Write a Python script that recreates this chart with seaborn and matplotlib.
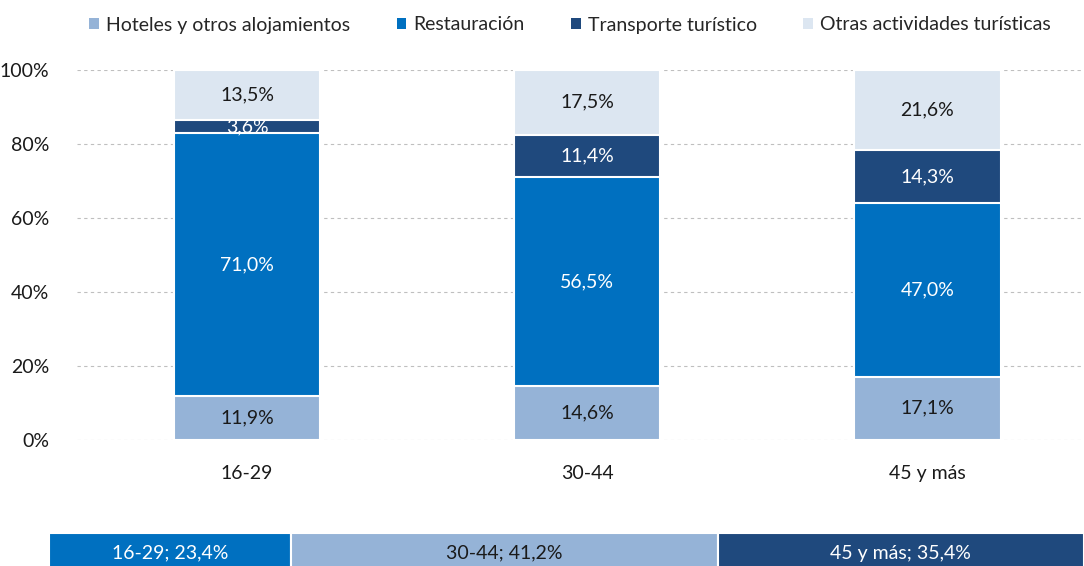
import matplotlib
matplotlib.use("Agg")
import matplotlib.pyplot as plt
import numpy as np
import pandas as pd
import seaborn as sns
from matplotlib.patches import Patch

grupos = ["16-29", "30-44", "45 y más"]
series = ["Hoteles y otros alojamientos", "Restauración",
          "Transporte turístico", "Otras actividades turísticas"]
hoteles = [11.9, 14.6, 17.1]
restauracion = [71.0, 56.5, 47.0]
transporte = [3.6, 11.4, 14.3]
otras = [13.5, 17.5, 21.6]

reparto_etiquetas = ["16-29; 23,4%", "30-44; 41,2%", "45 y más; 35,4%"]
reparto = [23.4, 41.2, 35.4]

_C_HOT = "#95B3D7"
_C_RES = "#0070C0"
_C_TRA = "#1F497D"
_C_OTR = "#DCE6F1"
colores = [_C_HOT, _C_RES, _C_TRA, _C_OTR]
texto_col = ["#1a1a1a", "white", "white", "#1a1a1a"]
colores_rep = [_C_RES, _C_HOT, _C_TRA]
texto_rep = ["white", "#1a1a1a", "white"]

sns.set_style("white")
plt.rcParams["font.family"] = ["Lato", "DejaVu Sans"]
FS = 14

fig = plt.figure(figsize=(10.84, 5.66), dpi=100)
W, H = 1084, 566
ax = fig.add_axes([77 / W, 126 / H, (1084 - 77) / W, 370 / H])

valores = np.array([hoteles, restauracion, transporte, otras])
acum = valores.cumsum(axis=0)

# capas acumuladas, de arriba hacia abajo
for i in range(3, -1, -1):
    df = pd.DataFrame({"grupo": grupos, "v": acum[i] / 100})
    sns.barplot(data=df, x="grupo", y="v", color=colores[i], width=0.43,
                edgecolor="white", linewidth=1.5, ax=ax, saturation=1)

for j in range(3):
    for i in range(4):
        centro = (acum[i, j] - valores[i, j] / 2) / 100
        ax.text(j, centro, f"{valores[i, j]:.1f}%".replace(".", ","),
                ha="center", va="center", fontsize=FS, color=texto_col[i])

ax.set_ylim(0, 1.0)
ax.set_xlim(-0.5, 2.46)
ax.set_yticks(np.arange(0, 1.01, 0.2))
ax.set_yticklabels([f"{int(t * 100)}%" for t in np.arange(0, 1.01, 0.2)])
ax.yaxis.grid(True, ls=(0, (3, 3)), color="#BFBFBF", lw=0.8)
ax.set_axisbelow(True)
ax.set_xlabel("")
ax.set_ylabel("")
ax.tick_params(axis="both", labelsize=FS, colors="#1a1a1a", length=0)
ax.tick_params(axis="x", pad=18)
ax.tick_params(axis="y", pad=20)
for sp in ax.spines.values():
    sp.set_visible(False)

handles = [Patch(facecolor=c, edgecolor="none") for c in colores]
fig.legend(handles, series, loc="center", bbox_to_anchor=(570 / W, 1 - 25 / H),
           ncol=4, frameon=False, fontsize=FS, handlelength=0.5,
           handleheight=0.5, handletextpad=0.35, columnspacing=2.4)

# barra de reparto por edad
ax2 = fig.add_axes([49 / W, -14 / H, (1084 - 49) / W, 47 / H])
izq = 0
for k in range(3):
    ax2.barh(0, reparto[k], left=izq, height=1, color=colores_rep[k],
             edgecolor="white", linewidth=1.5)
    ax2.text(izq + reparto[k] / 2, 0.07, reparto_etiquetas[k], ha="center",
             va="center", fontsize=FS, color=texto_rep[k])
    izq += reparto[k]
ax2.set_xlim(0, 100)
ax2.set_ylim(-0.5, 0.5)
ax2.axis("off")

fig.savefig("out.png", dpi=100, facecolor="white")
